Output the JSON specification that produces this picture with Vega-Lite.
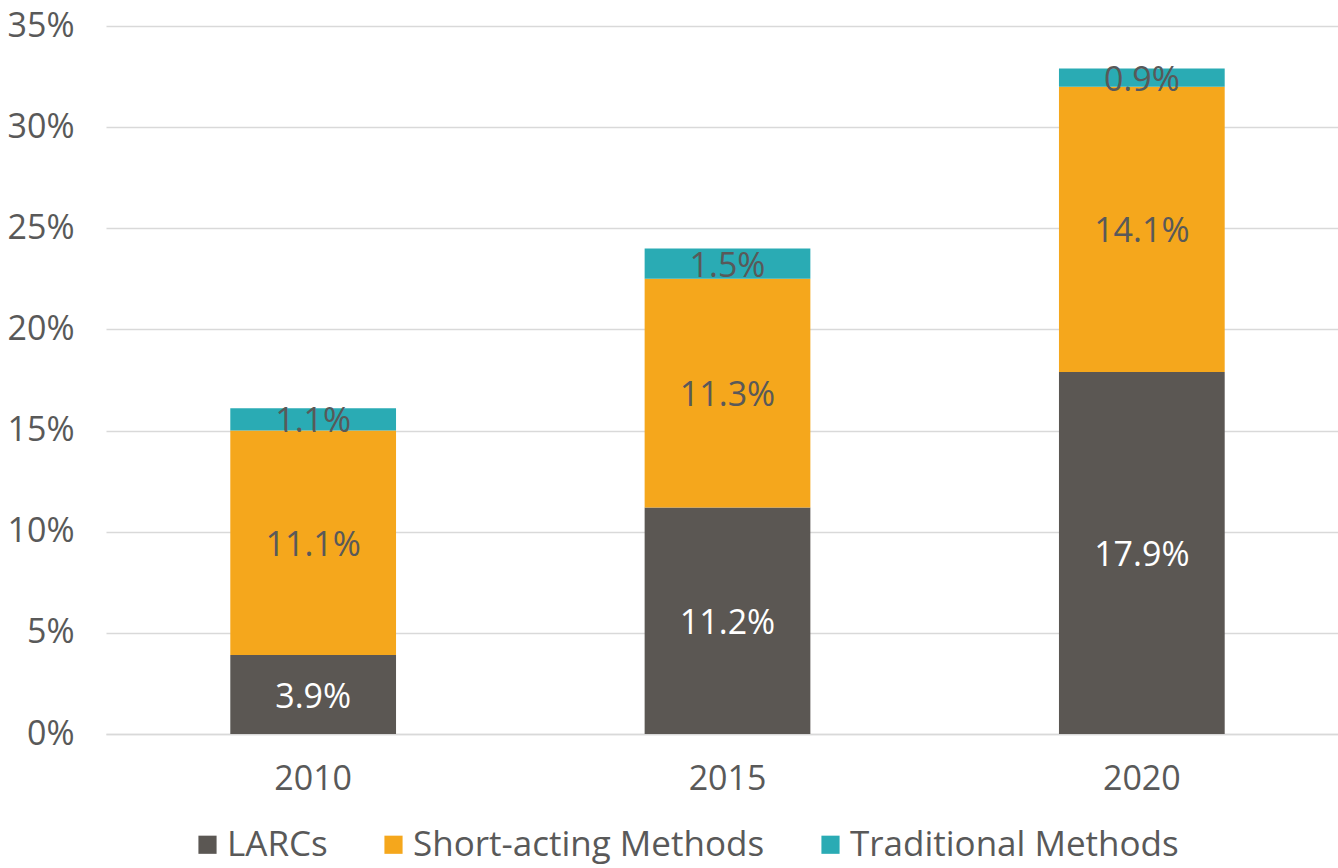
{
  "$schema": "https://vega.github.io/schema/vega-lite/v6.json",
  "width": 1243,
  "height": 708,
  "autosize": {"type": "none"},
  "padding": {"left": 106, "top": 26, "right": 0, "bottom": 134},
  "background": "white",
  "config": {
    "font": "Open Sans",
    "view": {"stroke": null},
    "axis": {"labelColor": "#595959", "labelFont": "Open Sans", "labelFontSize": 34, "titleColor": "#595959"},
    "legend": {"labelFont": "Open Sans", "labelColor": "#595959"}
  },
  "data": {
    "values": [
      {"year": "2010", "series": "LARCs", "value": 0.039},
      {"year": "2010", "series": "Short-acting Methods", "value": 0.111},
      {"year": "2010", "series": "Traditional Methods", "value": 0.011},
      {"year": "2015", "series": "LARCs", "value": 0.112},
      {"year": "2015", "series": "Short-acting Methods", "value": 0.113},
      {"year": "2015", "series": "Traditional Methods", "value": 0.015},
      {"year": "2020", "series": "LARCs", "value": 0.179},
      {"year": "2020", "series": "Short-acting Methods", "value": 0.141},
      {"year": "2020", "series": "Traditional Methods", "value": 0.009}
    ]
  },
  "transform": [
    {"stack": "value", "groupby": ["year"], "sort": [{"field": "series", "order": "ascending"}], "as": ["v0", "v1"]},
    {"calculate": "(datum.v0 + datum.v1) / 2", "as": "vmid"}
  ],
  "encoding": {
    "x": {
      "field": "year", "type": "nominal",
      "scale": {"paddingInner": 0.6, "paddingOuter": 0.3},
      "axis": {"title": null, "labelAngle": 0, "ticks": false, "domainColor": "#d9d9d9", "domainWidth": 1.5, "labelPadding": 28}
    }
  },
  "layer": [
    {
      "mark": {"type": "bar"},
      "encoding": {
        "y": {
          "field": "v0", "type": "quantitative",
          "scale": {"domain": [0, 0.35], "nice": false},
          "axis": {"title": null, "format": "%", "values": [0, 0.05, 0.1, 0.15, 0.2, 0.25, 0.3, 0.35], "labelOverlap": false, "labelFlush": false, "ticks": false, "domain": false, "gridColor": "#d9d9d9", "gridWidth": 1.5, "labelPadding": 32}
        },
        "y2": {"field": "v1"},
        "color": {
          "field": "series", "type": "nominal",
          "scale": {"domain": ["LARCs", "Short-acting Methods", "Traditional Methods"], "range": ["#5B5753", "#F5A71C", "#2AABB4"]},
          "legend": {"title": null, "orient": "none", "legendX": 84, "legendY": 801, "direction": "horizontal", "symbolType": "square", "symbolSize": 330, "symbolStrokeWidth": 0, "labelFontSize": 35, "columnPadding": 48, "labelOffset": 2, "labelLimit": 500}
        }
      }
    },
    {
      "mark": {"type": "text", "fontSize": 34, "baseline": "middle", "align": "center", "dy": 3},
      "encoding": {
        "y": {"field": "vmid", "type": "quantitative"},
        "text": {"field": "value", "type": "quantitative", "format": ".1%"},
        "color": {"condition": {"test": "datum.series === 'LARCs'", "value": "white"}, "value": "#595959"}
      }
    }
  ]
}
